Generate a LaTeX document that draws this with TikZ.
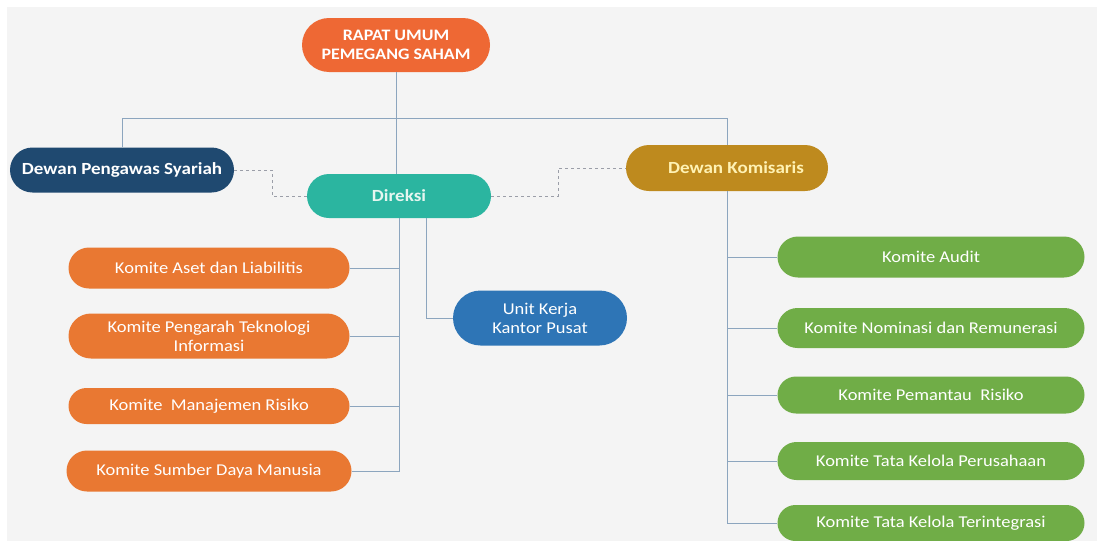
\documentclass[tikz,border=0pt]{standalone}
\usepackage{fontspec}
\setmainfont{Carlito}[FakeStretch=1.12]
\usetikzlibrary{shapes.misc}

\definecolor{rupscol}{RGB}{238,104,52}
\definecolor{dpscol}{RGB}{31,73,112}
\definecolor{dircol}{RGB}{43,181,160}
\definecolor{dkcol}{RGB}{190,138,30}
\definecolor{ukcol}{RGB}{46,117,182}
\definecolor{orgcol}{RGB}{233,120,50}
\definecolor{grncol}{RGB}{112,173,71}
\definecolor{linecol}{RGB}{140,165,190}
\definecolor{dashcol}{RGB}{155,158,168}
\definecolor{bgcol}{RGB}{244,244,244}

\tikzset{
    pill/.style={rounded rectangle,inner sep=0pt,align=center,
        text=white,font=\fontsize{16.5}{19}\selectfont},
    head/.style={pill,font=\bfseries\fontsize{17}{19}\selectfont},
    komite/.style={pill,minimum width=281pt},
    hijau/.style={pill,fill=grncol,minimum width=307pt},
    link/.style={draw=linecol,line width=0.8pt},
    dashlink/.style={draw=dashcol,line width=0.7pt,dashed}
}

\begin{document}
\begin{tikzpicture}[x=1pt,y=-1pt]
        %% Page and background
        \useasboundingbox (0,0) rectangle (1101,541);
        \fill[white] (0,0) rectangle (1101,541);
        \fill[bgcol] (7,7) rectangle (1097,541);
        %% Top level
        \node[head,fill=rupscol,minimum width=188pt,minimum height=54pt,
            font=\bfseries\fontsize{16}{19.5}\selectfont] (rups) at (396,45)
            {RAPAT UMUM\\PEMEGANG SAHAM};
        \node[head,fill=dpscol,minimum width=224pt,minimum height=45pt] (dps) at (122,170)
            {Dewan Pengawas Syariah};
        \node[head,fill=dircol,text={rgb,255:red,230;green,246;blue,240},
            minimum width=184pt,minimum height=44pt] (direksi) at (399,196) {Direksi};
        \node[head,fill=dkcol,text={rgb,255:red,255;green,242;blue,180},
            minimum width=202pt,minimum height=46pt] (dk) at (727,168) {\hspace{18pt}Dewan Komisaris};
        \node[pill,fill=ukcol,minimum width=174pt,minimum height=55pt] (ukkp) at (540,318)
            {Unit Kerja\\Kantor Pusat};
        %% Committees of the Direksi
        \node[komite,fill=orgcol,minimum height=41pt] (kal) at (209,268)
            {Komite Aset dan Liabilitis};
        \node[komite,fill=orgcol,minimum height=45pt] (kpti) at (209,336)
            {Komite Pengarah Teknologi\\Informasi};
        \node[komite,fill=orgcol,minimum height=36pt] (kmr) at (209,406)
            {Komite~~Manajemen Risiko};
        \node[komite,fill=orgcol,minimum height=41pt,minimum width=285pt] (ksdm) at (209,471)
            {Komite Sumber Daya Manusia};
        %% Committees of the Dewan Komisaris
        \node[hijau,minimum height=41pt] (kaud) at (931,257) {Komite Audit};
        \node[hijau,minimum height=40pt] (knr) at (931,328) {Komite Nominasi dan Remunerasi};
        \node[hijau,minimum height=37pt] (kpr) at (931,395) {Komite Pemantau~~Risiko};
        \node[hijau,minimum height=38pt] (ktkp) at (931,461) {Komite Tata Kelola Perusahaan};
        \node[hijau,minimum height=36pt] (ktkt) at (931,523) {Komite Tata Kelola Terintegrasi};
        %% Solid lines
        \coordinate (bus) at (396,118);
        \draw[link] (rups.south) -- (rups.south |- direksi.north);
        \draw[link] (dps.north) -- (dps.north |- bus) -- (bus -| dk.north) -- (dk.north);
        \draw[link] (direksi.south) -- (direksi.south |- ksdm.east) -- (ksdm.east);
        \foreach \k in {kal,kpti,kmr}
            \draw[link] (\k.east) -- (\k.east -| direksi.south);
        \draw[link] ([xshift=27pt]direksi.south) |- (ukkp.west);
        \draw[link] (dk.south) -- (dk.south |- ktkt.west) -- (ktkt.west);
        \foreach \k in {kaud,knr,kpr,ktkp}
            \draw[link] (\k.west) -- (\k.west -| dk.south);
        %% Dashed lines
        \coordinate (dl) at (272,0);
        \coordinate (dr) at (558,0);
        \draw[dashlink] (dps.east) -- (dps.east -| dl) |- (direksi.west);
        \draw[dashlink] (direksi.east) -- (direksi.east -| dr) |- (dk.west);
    \end{tikzpicture}
\end{document}
